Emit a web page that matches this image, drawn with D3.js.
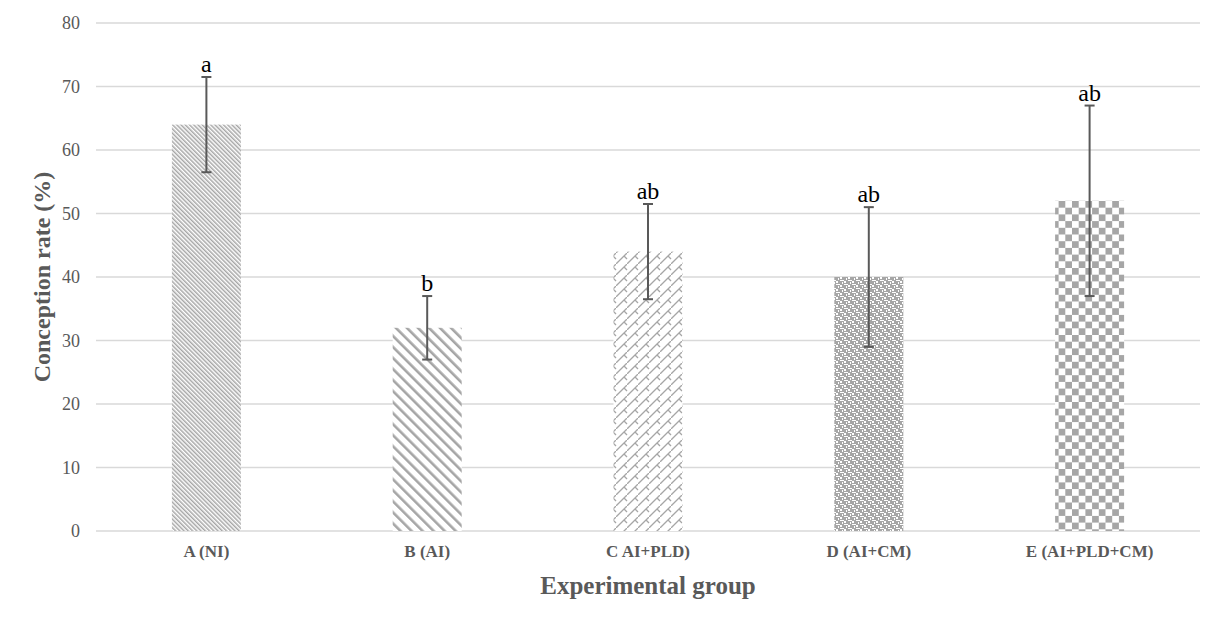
<!DOCTYPE html>
<html>
<head>
<meta charset="utf-8">
<script src="https://cdn.jsdelivr.net/npm/d3@7"></script>
<style>
html,body{margin:0;padding:0;background:#fff;}
svg{display:block;}
</style>
</head>
<body>
<svg id="chart" width="1224" height="625"></svg>
<script>
const categories = ["A (NI)", "B (AI)", "C AI+PLD)", "D (AI+CM)", "E (AI+PLD+CM)"];
const values = [64, 32, 44, 40, 52];
const errors = [7.5, 5, 7.5, 11, 15];
const letters = ["a", "b", "ab", "ab", "ab"];
const yTicks = [0, 10, 20, 30, 40, 50, 60, 70, 80];
const patternIds = ["pA", "pB", "pC", "pD", "pE"];

const svg = d3.select("#chart");
const margin = {left: 96, right: 24, top: 23, bottom: 94};
const W = 1224, H = 625;
const x = d3.scaleBand().domain(categories).range([margin.left, W - margin.right]).padding(0);
const y = d3.scaleLinear().domain([0, 80]).range([H - margin.bottom, margin.top]);
const barW = x.bandwidth() * 0.3125;
const gray = "#a6a6a6";

const defs = svg.append("defs");
// A: dense "\" stripes
const pA = defs.append("pattern").attr("id", "pA").attr("patternUnits", "userSpaceOnUse")
  .attr("width", 3).attr("height", 3).attr("patternTransform", "rotate(-45)");
pA.append("rect").attr("width", 3).attr("height", 3).attr("fill", "#fff");
pA.append("rect").attr("x", 0).attr("width", 1.5).attr("height", 3).attr("fill", gray);
// B: wide "\" stripes
const pB = defs.append("pattern").attr("id", "pB").attr("patternUnits", "userSpaceOnUse")
  .attr("width", 7.8).attr("height", 7.8).attr("patternTransform", "rotate(-45)");
pB.append("rect").attr("width", 7.8).attr("height", 7.8).attr("fill", "#fff");
pB.append("rect").attr("x", 0).attr("width", 2.6).attr("height", 7.8).attr("fill", gray);
// C: shingle zigzag
const pC = defs.append("pattern").attr("id", "pC").attr("patternUnits", "userSpaceOnUse")
  .attr("width", 11).attr("height", 11);
pC.append("rect").attr("width", 11).attr("height", 11).attr("fill", "#fff");
pC.append("path").attr("d", "M0,11 L8,3 M8,3 L11,6 M0,6 L-3,3 M11,0 L8,3")
  .attr("stroke", gray).attr("stroke-width", 1.3).attr("fill", "none");
// D: gray with small white blocks
const pD = defs.append("pattern").attr("id", "pD").attr("patternUnits", "userSpaceOnUse")
  .attr("width", 8).attr("height", 8);
pD.append("rect").attr("width", 8).attr("height", 8).attr("fill", gray);
pD.append("rect").attr("x", 0).attr("y", 0).attr("width", 4).attr("height", 1).attr("fill", "#fff");
pD.append("rect").attr("x", 4).attr("y", 4).attr("width", 4).attr("height", 1).attr("fill", "#fff");
pD.append("rect").attr("x", 2).attr("y", 2).attr("width", 1).attr("height", 2).attr("fill", "#fff");
pD.append("rect").attr("x", 6).attr("y", 6).attr("width", 1).attr("height", 2).attr("fill", "#fff");
pD.append("rect").attr("x", 0).attr("y", 5).attr("width", 2).attr("height", 2).attr("fill", "#fff");
pD.append("rect").attr("x", 4).attr("y", 1).attr("width", 2).attr("height", 2).attr("fill", "#fff");
// E: checkerboard
const pE = defs.append("pattern").attr("id", "pE").attr("patternUnits", "userSpaceOnUse")
  .attr("width", 13.4).attr("height", 13.4);
pE.append("rect").attr("width", 13.4).attr("height", 13.4).attr("fill", "#fff");
pE.append("rect").attr("width", 6.7).attr("height", 6.7).attr("fill", gray);
pE.append("rect").attr("x", 6.7).attr("y", 6.7).attr("width", 6.7).attr("height", 6.7).attr("fill", gray);

// gridlines
svg.append("g").selectAll("line").data(yTicks).join("line")
  .attr("x1", margin.left).attr("x2", W - margin.right)
  .attr("y1", d => y(d)).attr("y2", d => y(d))
  .attr("stroke", "#d9d9d9").attr("stroke-width", 1.3);

// y axis labels
const yAxis = d3.axisLeft(y).tickValues(yTicks).tickSize(0).tickPadding(16);
const gy = svg.append("g").attr("transform", `translate(${margin.left},0)`).call(yAxis);
gy.select(".domain").remove();
gy.selectAll("text").attr("font-family", "Liberation Serif").attr("font-size", 18).attr("fill", "#595959");

// bars
svg.append("g").selectAll("rect").data(values).join("rect")
  .attr("x", (d, i) => x(categories[i]) + x.bandwidth() / 2 - barW / 2)
  .attr("width", barW)
  .attr("y", d => y(d))
  .attr("height", d => y(0) - y(d))
  .attr("fill", (d, i) => `url(#${patternIds[i]})`);

// error bars
const eb = svg.append("g").attr("stroke", "#595959").attr("stroke-width", 2);
values.forEach((v, i) => {
  const cx = x(categories[i]) + x.bandwidth() / 2;
  eb.append("line").attr("x1", cx).attr("x2", cx).attr("y1", y(v + errors[i])).attr("y2", y(v - errors[i]));
  eb.append("line").attr("x1", cx - 5).attr("x2", cx + 5).attr("y1", y(v + errors[i])).attr("y2", y(v + errors[i]));
  eb.append("line").attr("x1", cx - 5).attr("x2", cx + 5).attr("y1", y(v - errors[i])).attr("y2", y(v - errors[i]));
});

// letters
svg.append("g").selectAll("text").data(letters).join("text")
  .attr("x", (d, i) => x(categories[i]) + x.bandwidth() / 2)
  .attr("y", (d, i) => y(values[i] + errors[i]) - 5)
  .attr("text-anchor", "middle")
  .attr("font-family", "Liberation Serif").attr("font-size", 24).attr("fill", "#000")
  .text(d => d);

// x axis labels
const xAxis = d3.axisBottom(x).tickSize(0).tickPadding(14);
const gx = svg.append("g").attr("transform", `translate(0,${y(0)})`).call(xAxis);
gx.select(".domain").remove();
gx.selectAll("text").attr("font-family", "Liberation Serif").attr("font-size", 17)
  .attr("font-weight", "bold").attr("fill", "#595959");

// axis titles
svg.append("text").attr("x", (margin.left + W - margin.right) / 2).attr("y", 594)
  .attr("text-anchor", "middle").attr("font-family", "Liberation Serif").attr("font-size", 25)
  .attr("font-weight", "bold").attr("fill", "#595959").text("Experimental group");
svg.append("text").attr("transform", `translate(50,${(y(0) + y(80)) / 2}) rotate(-90)`)
  .attr("text-anchor", "middle").attr("font-family", "Liberation Serif").attr("font-size", 24)
  .attr("font-weight", "bold").attr("fill", "#595959").text("Conception rate (%)");
</script>
</body>
</html>
